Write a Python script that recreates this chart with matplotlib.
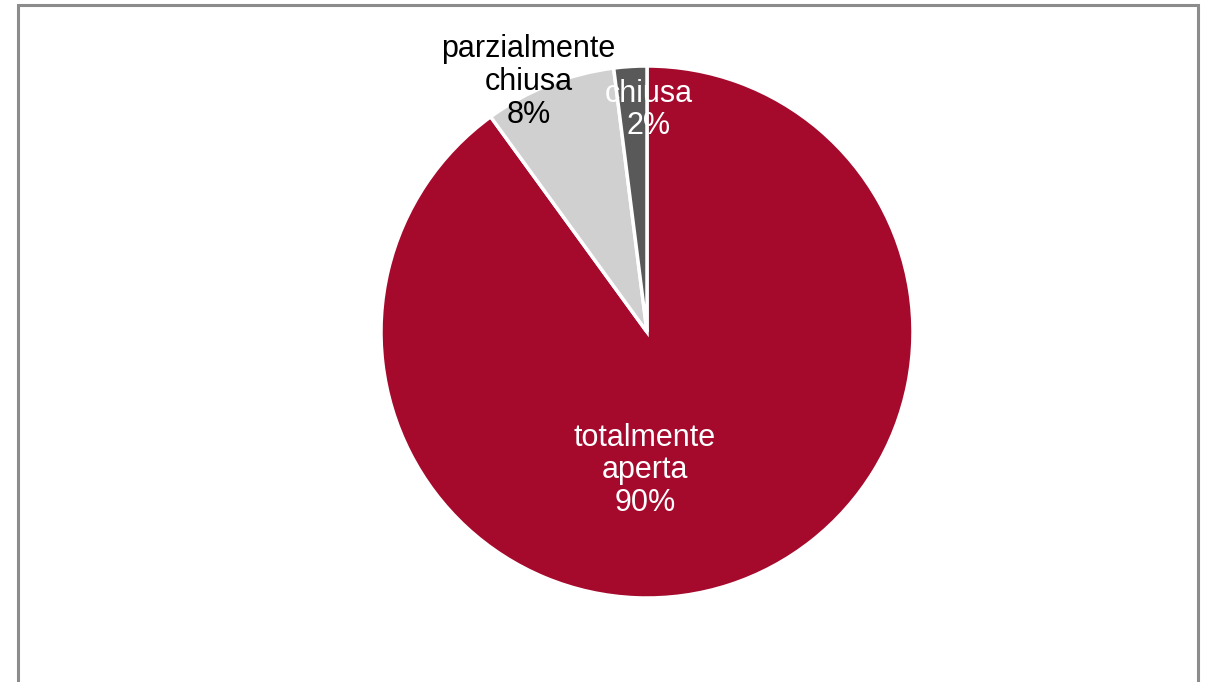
import matplotlib.pyplot as plt
from matplotlib.patches import Rectangle

plt.rcParams['font.family'] = ['Liberation Sans', 'DejaVu Sans']

# Dati
etichette = ["totalmente\naperta", "parzialmente\nchiusa", "chiusa"]
valori = [90, 8, 2]
colori = ["#A50A2D", "#D0D0D0", "#595959"]
colori_testo = ["white", "black", "white"]
# posizione delle etichette (in raggi, rispetto al centro)
pos_etichette = [(-0.008, -0.52), (-0.445, 0.94), (0.006, 0.835)]


def main():
    fig = plt.figure(figsize=(12.12, 6.82), dpi=100)

    # cornice grigia (aperta in basso)
    fig.patches.append(Rectangle((18 / 1212, -0.05), 1180 / 1212, 1.05 - 5 / 682,
                                 transform=fig.transFigure, fill=False,
                                 edgecolor="#8C8C8C", linewidth=2.2))

    ax = fig.add_axes([381 / 1212, 84 / 682, 532 / 1212, 532 / 682])
    ax.pie(valori, colors=colori, startangle=90, counterclock=False,
           radius=1, wedgeprops=dict(edgecolor="white", linewidth=2.5))
    ax.set_xlim(-1, 1)
    ax.set_ylim(-1, 1)
    ax.set_aspect("equal")
    ax.axis("off")

    for nome, v, (x, y), c in zip(etichette, valori, pos_etichette, colori_testo):
        ax.text(x, y, f"{nome}\n{v}%", ha="center", va="center",
                multialignment="center", fontsize=22, color=c, linespacing=1.12)

    fig.savefig("out.png", dpi=100)


if __name__ == "__main__":
    main()
